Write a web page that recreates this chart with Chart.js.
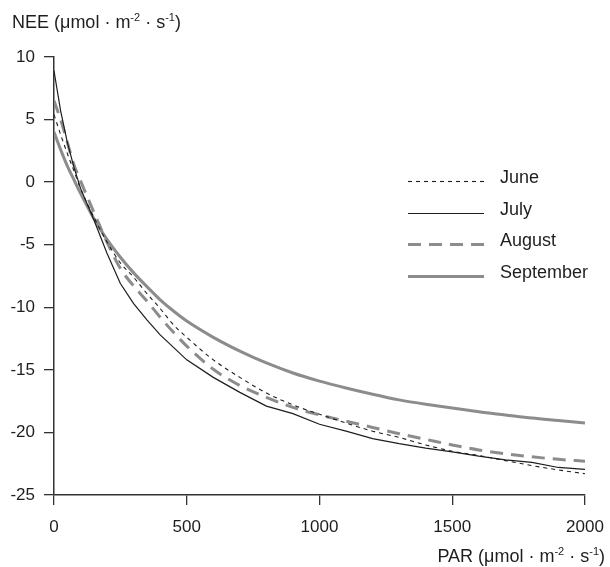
<!DOCTYPE html>
<html>
<head>
<meta charset="utf-8">
<script src="https://cdn.jsdelivr.net/npm/chart.js@4.4.0/dist/chart.umd.min.js"></script>
<style>
  html, body { margin: 0; padding: 0; background: #fff; }
</style>
</head>
<body>
<canvas id="nee" width="610" height="567"></canvas>
<script>
// PAR (umol m-2 s-1) onde as curvas foram lidas
const par = [0, 25, 50, 75, 100, 150, 200, 250, 300, 350, 400, 450, 500, 600, 700, 800, 900, 1000,
             1100, 1200, 1300, 1400, 1500, 1600, 1700, 1800, 1900, 2000];

// NEE por mes
const neeJune = [5.4, 3.8, 2.3, 0.9, -0.5, -2.8, -4.8, -6.45, -7.6, -8.9, -10.1, -11.4, -12.4, -14.2, -15.6,
                 -16.85, -17.8, -18.55, -19.25, -19.9, -20.4, -21.0, -21.5, -21.85, -22.25, -22.65, -23.0, -23.3];
const neeJuly = [8.9, 5.7, 3.2, 1.2, -0.5, -3.0, -5.7, -8.1, -9.7, -11.0, -12.2, -13.2, -14.2, -15.6, -16.8,
                 -17.9, -18.5, -19.35, -19.9, -20.5, -20.9, -21.25, -21.55, -21.9, -22.2, -22.4, -22.8, -22.95];
const neeAugust = [6.5, 5.0, 3.2, 1.4, 0.1, -2.4, -4.8, -6.9, -8.3, -9.5, -10.8, -12.0, -13.1, -14.95, -16.25,
                   -17.2, -18.0, -18.6, -19.1, -19.6, -20.1, -20.55, -21.0, -21.4, -21.7, -21.95, -22.15, -22.3];
const neeSeptember = [4.0, 2.6, 1.3, 0.2, -0.9, -2.9, -4.6, -6.0, -7.25, -8.35, -9.4, -10.3, -11.1, -12.4, -13.5,
                      -14.45, -15.25, -15.9, -16.45, -16.95, -17.4, -17.75, -18.05, -18.35, -18.6, -18.85, -19.05, -19.25];

const months = ["June", "July", "August", "September"];
const yTitle = [{ t: "NEE (\u03bcmol \u00b7 m" }, { t: "-2", sup: true }, { t: " \u00b7 s" }, { t: "-1", sup: true }, { t: ")" }];
const xTitle = [{ t: "PAR (\u03bcmol \u00b7 m" }, { t: "-2", sup: true }, { t: " \u00b7 s" }, { t: "-1", sup: true }, { t: ")" }];

const FONT = "'Liberation Sans', Arial, Helvetica, sans-serif";
const GREY = "#8c8c8c";
const DARK = "#1e1e1e";

const toPoints = arr => par.map((p, i) => ({ x: p, y: arr[i] }));

// escreve texto com expoentes
function drawRich(ctx, parts, x, y, align) {
    const widthOf = p => {
        ctx.font = p.sup ? `11px ${FONT}` : `18px ${FONT}`;
        return ctx.measureText(p.t).width;
    };
    let total = 0;
    parts.forEach(p => total += widthOf(p));
    let cx = align === "right" ? x - total : x;
    ctx.textAlign = "left";
    ctx.textBaseline = "alphabetic";
    ctx.fillStyle = DARK;
    parts.forEach(p => {
        const w = widthOf(p);
        ctx.fillText(p.t, cx, p.sup ? y - 7 : y);
        cx += w;
    });
}

const decorPlugin = {
    id: "decor",
    afterDraw(chart) {
        const ctx = chart.ctx;
        ctx.save();
        drawRich(ctx, yTitle, 12, 28, "left");
        drawRich(ctx, xTitle, 605, 562, "right");

        // legenda dentro do grafico
        const rows = [178, 210, 241, 273];
        chart.data.datasets.forEach((ds, i) => {
            const y = rows[i] + 3.5;
            ctx.beginPath();
            ctx.setLineDash(ds.borderDash || []);
            ctx.lineWidth = ds.borderWidth;
            ctx.strokeStyle = ds.borderColor;
            ctx.moveTo(408, y);
            ctx.lineTo(484, y);
            ctx.stroke();
            ctx.setLineDash([]);
            ctx.font = `18px ${FONT}`;
            ctx.fillStyle = DARK;
            ctx.textAlign = "left";
            ctx.textBaseline = "middle";
            ctx.fillText(ds.label, 500, rows[i]);
        });
        ctx.restore();
    }
};

const axisStyle = {
    grid: { display: true, drawOnChartArea: false, drawTicks: true, tickLength: 10, color: "#333", lineWidth: 1.3 },
    border: { display: true, color: "#333", width: 1.5 },
};

new Chart(document.getElementById("nee"), {
    type: "line",
    data: {
        datasets: [
            {
                label: months[0],
                data: toPoints(neeJune),
                borderColor: DARK,
                borderWidth: 1.1,
                borderDash: [4, 4],
                cubicInterpolationMode: "monotone",
                pointRadius: 0,
            },
            {
                label: months[1],
                data: toPoints(neeJuly),
                borderColor: DARK,
                borderWidth: 1.2,
                tension: 0,
                pointRadius: 0,
            },
            {
                label: months[2],
                data: toPoints(neeAugust),
                borderColor: GREY,
                borderWidth: 3,
                borderDash: [13, 8],
                cubicInterpolationMode: "monotone",
                pointRadius: 0,
            },
            {
                label: months[3],
                data: toPoints(neeSeptember),
                borderColor: GREY,
                borderWidth: 3,
                cubicInterpolationMode: "monotone",
                pointRadius: 0,
            },
        ],
    },
    options: {
        responsive: false,
        devicePixelRatio: 1,
        animation: false,
        layout: { padding: { top: 57, right: 25, left: 0, bottom: 0 } },
        plugins: {
            legend: { display: false },
            tooltip: { enabled: false },
        },
        scales: {
            x: {
                type: "linear",
                min: 0,
                max: 2000,
                ...axisStyle,
                ticks: {
                    stepSize: 500,
                    color: DARK,
                    padding: 12,
                    maxRotation: 0,
                    font: { family: FONT, size: 17 },
                    callback: v => String(v),
                },
                afterFit: s => { s.height = 72; s.paddingLeft = 0; s.paddingRight = 0; },
            },
            y: {
                type: "linear",
                min: -25,
                max: 10,
                ...axisStyle,
                ticks: {
                    stepSize: 5,
                    color: DARK,
                    padding: 9,
                    font: { family: FONT, size: 17 },
                    callback: v => String(v),
                },
                afterFit: s => { s.width = 54; s.paddingTop = 0; s.paddingBottom = 0; },
            },
        },
    },
    plugins: [decorPlugin],
});
</script>
</body>
</html>
